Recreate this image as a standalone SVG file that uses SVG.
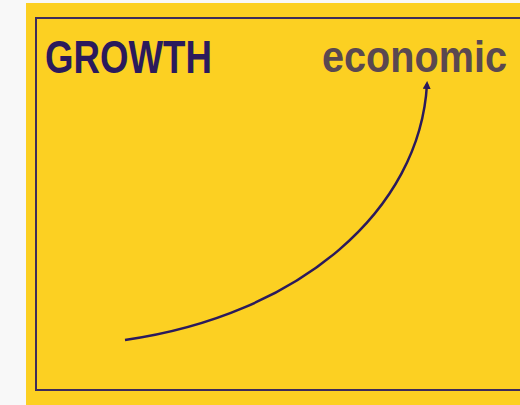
<svg xmlns="http://www.w3.org/2000/svg" width="520" height="405" viewBox="0 0 520 405">
<style>
.ink{fill:#2b1a5c}
.lbl{font-family:"Liberation Sans",Arial,sans-serif}
</style>
<defs>
<marker id="ah" markerWidth="8" markerHeight="8" refX="5" refY="4" orient="auto" markerUnits="userSpaceOnUse">
<path d="M0,0 L8,4 L0,8 Z" fill="#2b1a5c"/>
</marker>
</defs>
<rect x="0" y="0" width="520" height="405" fill="#f8f8f8"/>
<rect x="26" y="3" width="494" height="402" fill="#fcd022"/>
<g id="frame">
<rect x="36" y="18" width="490" height="372" fill="none" stroke="#3d2c5a" stroke-width="2"/>
</g>
<g id="title">
<text class="lbl ink" x="45" y="73" font-size="46" font-weight="bold" textLength="167" lengthAdjust="spacingAndGlyphs">GROWTH</text>
</g>
<g id="economic">
<text class="lbl" x="322" y="72" font-size="44" font-weight="bold" fill="#5a4850" textLength="185" lengthAdjust="spacingAndGlyphs">economic</text>
</g>
<g id="connectors">
<path d="M125,340 C300,315 420,210 427,84" fill="none" stroke="#2b1a5c" stroke-width="2.5" marker-end="url(#ah)"/>
</g>
</svg>
